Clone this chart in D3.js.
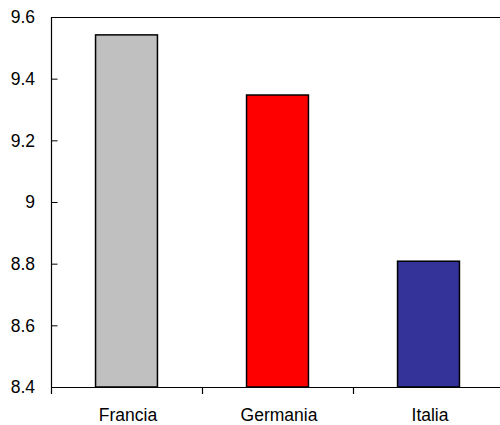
<!DOCTYPE html>
<html>
<head>
<meta charset="utf-8">
<script src="https://cdn.jsdelivr.net/npm/d3@7/dist/d3.min.js"></script>
<style>
  html, body { margin: 0; padding: 0; background: #fff; }
  svg { display: block; }
  text { font-family: "Liberation Sans", Arial, sans-serif; fill: #000; }
</style>
</head>
<body>
<svg id="chart" width="500" height="425"></svg>
<script>
// Categories, values and colours of the bars
const categories = ["Francia", "Germania", "Italia"];
const values = [9.542, 9.347, 8.808];
const colors = ["#C0C0C0", "#FF0000", "#333399"];
const yTicks = [8.4, 8.6, 8.8, 9.0, 9.2, 9.4, 9.6];
const yTickLabels = ["8.4", "8.6", "8.8", "9", "9.2", "9.4", "9.6"];

const svg = d3.select("#chart");
const plotLeft = 51, plotRight = 504, plotTop = 17, plotBottom = 387;

const x = d3.scaleBand().domain(categories).range([plotLeft, plotRight]).padding(0);
const y = d3.scaleLinear().domain([8.4, 9.6]).range([plotBottom, plotTop]);
const barFrac = 0.41;

// plot frame (top border)
svg.append("line")
  .attr("x1", plotLeft).attr("x2", plotRight)
  .attr("y1", y(9.6) + 0.5).attr("y2", y(9.6) + 0.5)
  .attr("stroke", "#000").attr("stroke-width", 1.2);

// bars
svg.append("g").selectAll("rect")
  .data(categories)
  .join("rect")
  .attr("x", d => x(d) + x.bandwidth() * (1 - barFrac) / 2)
  .attr("width", x.bandwidth() * barFrac)
  .attr("y", (d, i) => y(values[i]))
  .attr("height", (d, i) => y(8.4) - y(values[i]))
  .attr("fill", (d, i) => colors[i])
  .attr("stroke", "#000")
  .attr("stroke-width", 1.5);

// y axis: ticks point inward
const yAxis = d3.axisRight(y)
  .tickValues(yTicks)
  .tickSize(6)
  .tickFormat("");
const yg = svg.append("g")
  .attr("transform", `translate(${plotLeft + 0.5},0)`)
  .call(yAxis);
yg.select(".domain").attr("stroke", "#000").attr("stroke-width", 1.2)
  .attr("d", `M0,${plotTop}V${plotBottom}`);
yg.selectAll(".tick line").attr("stroke", "#000");

svg.append("g").selectAll("text")
  .data(yTicks)
  .join("text")
  .attr("x", plotLeft - 16)
  .attr("y", d => y(d))
  .attr("dy", "0.36em")
  .attr("text-anchor", "end")
  .style("font-size", "17.5px")
  .text((d, i) => yTickLabels[i]);

// x axis: ticks at category boundaries, pointing outward
const boundaries = categories.map(c => x(c)).concat([plotRight]);
const xg = svg.append("g");
xg.append("line")
  .attr("x1", plotLeft).attr("x2", plotRight)
  .attr("y1", plotBottom + 0.5).attr("y2", plotBottom + 0.5)
  .attr("stroke", "#000").attr("stroke-width", 1.2);
xg.selectAll("line.tk")
  .data(boundaries)
  .join("line")
  .attr("class", "tk")
  .attr("x1", d => Math.round(d) + 0.5).attr("x2", d => Math.round(d) + 0.5)
  .attr("y1", plotBottom).attr("y2", plotBottom + 7)
  .attr("stroke", "#000").attr("stroke-width", 1.2);
xg.selectAll("text")
  .data(categories)
  .join("text")
  .attr("x", d => x(d) + x.bandwidth() / 2 + 1.5)
  .attr("y", 420.5)
  .attr("text-anchor", "middle")
  .style("font-size", "17.5px")
  .text(d => d);
</script>
</body>
</html>
